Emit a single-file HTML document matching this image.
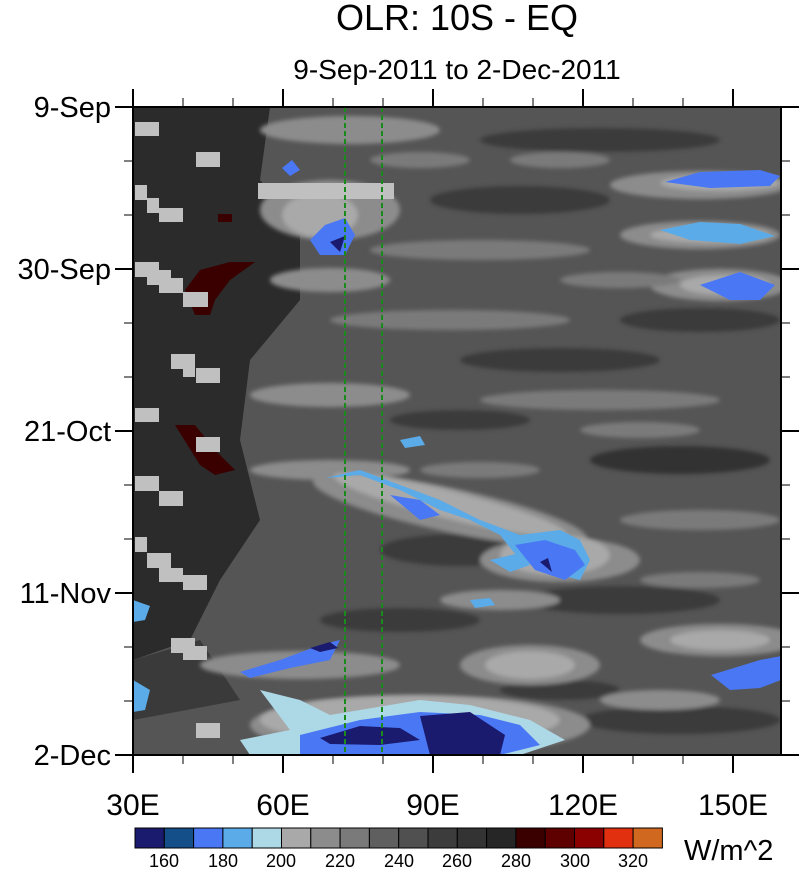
<!DOCTYPE html>
<html><head><meta charset="utf-8"><style>
html,body{margin:0;padding:0;background:#fff}
svg{display:block}
text{font-family:"Liberation Sans",Arial,sans-serif;fill:#000}
</style></head><body>
<svg width="800" height="869" viewBox="0 0 800 869">
<defs>
<clipPath id="pc"><rect x="133" y="107" width="648" height="648"/></clipPath>
<filter id="bl" x="-20%" y="-50%" width="140%" height="200%"><feGaussianBlur stdDeviation="2"/></filter>
</defs>
<text x="457" y="30" font-size="36" text-anchor="middle">OLR: 10S - EQ</text>
<text x="457" y="79" font-size="28" text-anchor="middle">9-Sep-2011 to 2-Dec-2011</text>
<g clip-path="url(#pc)">
<rect x="133" y="107" width="648" height="648" fill="#555"/>
<polygon points="133,107 270,107 260,180 300,230 300,300 250,360 240,440 260,520 220,580 190,640 133,660" fill="#2b2b2b"/>
<polygon points="133,660 200,640 240,700 133,720" fill="#3a3a3a"/>
<g filter="url(#bl)">
<ellipse cx="600" cy="140" rx="120" ry="12" fill="#3a3a3a"/>
<ellipse cx="520" cy="200" rx="90" ry="14" fill="#3a3a3a"/>
<ellipse cx="700" cy="320" rx="80" ry="12" fill="#3a3a3a"/>
<ellipse cx="560" cy="360" rx="100" ry="12" fill="#3a3a3a"/>
<ellipse cx="460" cy="420" rx="70" ry="10" fill="#3a3a3a"/>
<ellipse cx="680" cy="460" rx="90" ry="14" fill="#333"/>
<ellipse cx="460" cy="550" rx="80" ry="16" fill="#3a3a3a"/>
<ellipse cx="620" cy="600" rx="100" ry="14" fill="#3a3a3a"/>
<ellipse cx="400" cy="620" rx="80" ry="12" fill="#3a3a3a"/>
<ellipse cx="680" cy="720" rx="100" ry="14" fill="#3a3a3a"/>
<ellipse cx="560" cy="690" rx="60" ry="10" fill="#3a3a3a"/>
<ellipse cx="350" cy="130" rx="90" ry="14" fill="#8c8c8c"/>
<ellipse cx="330" cy="210" rx="70" ry="30" fill="#8c8c8c"/>
<ellipse cx="330" cy="280" rx="60" ry="12" fill="#8c8c8c"/>
<ellipse cx="480" cy="250" rx="110" ry="10" fill="#7a7a7a"/>
<ellipse cx="700" cy="185" rx="90" ry="14" fill="#8c8c8c"/>
<ellipse cx="700" cy="235" rx="80" ry="14" fill="#8c8c8c"/>
<ellipse cx="720" cy="285" rx="70" ry="16" fill="#8c8c8c"/>
<ellipse cx="450" cy="320" rx="120" ry="10" fill="#7a7a7a"/>
<ellipse cx="330" cy="395" rx="80" ry="12" fill="#8c8c8c"/>
<ellipse cx="600" cy="400" rx="120" ry="10" fill="#7a7a7a"/>
<ellipse cx="330" cy="470" rx="80" ry="10" fill="#8c8c8c"/>
<ellipse cx="450" cy="510" rx="140" ry="22" fill="#8c8c8c" transform="rotate(12 450 510)"/>
<ellipse cx="560" cy="560" rx="80" ry="22" fill="#8c8c8c"/>
<ellipse cx="700" cy="520" rx="80" ry="10" fill="#7a7a7a"/>
<ellipse cx="500" cy="600" rx="60" ry="10" fill="#8c8c8c"/>
<ellipse cx="720" cy="640" rx="80" ry="16" fill="#8c8c8c"/>
<ellipse cx="530" cy="665" rx="70" ry="20" fill="#8c8c8c"/>
<ellipse cx="300" cy="665" rx="100" ry="14" fill="#8c8c8c"/>
<ellipse cx="420" cy="725" rx="170" ry="30" fill="#8c8c8c"/>
<ellipse cx="660" cy="700" rx="60" ry="10" fill="#8c8c8c"/>
<ellipse cx="620" cy="280" rx="60" ry="8" fill="#7a7a7a"/>
<ellipse cx="560" cy="160" rx="50" ry="8" fill="#7a7a7a"/>
<ellipse cx="420" cy="160" rx="50" ry="8" fill="#7a7a7a"/>
<ellipse cx="640" cy="430" rx="60" ry="8" fill="#7a7a7a"/>
<ellipse cx="480" cy="470" rx="60" ry="8" fill="#7a7a7a"/>
<ellipse cx="700" cy="580" rx="60" ry="8" fill="#7a7a7a"/>
</g>
<g filter="url(#bl)">
<ellipse cx="320" cy="215" rx="38" ry="22" fill="#a9a9a9"/>
<ellipse cx="450" cy="505" rx="120" ry="14" fill="#a9a9a9" transform="rotate(14 450 505)"/>
<ellipse cx="555" cy="555" rx="55" ry="20" fill="#a9a9a9"/>
<ellipse cx="410" cy="720" rx="150" ry="24" fill="#a9a9a9"/>
<ellipse cx="530" cy="665" rx="45" ry="14" fill="#a9a9a9"/>
<ellipse cx="720" cy="640" rx="50" ry="10" fill="#a9a9a9"/>
<ellipse cx="710" cy="235" rx="60" ry="8" fill="#a9a9a9"/>
<ellipse cx="720" cy="183" rx="60" ry="8" fill="#a9a9a9"/>
<ellipse cx="725" cy="285" rx="45" ry="10" fill="#a9a9a9"/>
</g>
<polygon points="260,690 300,700 330,715 420,700 470,705 530,720 565,740 520,755 250,755 240,740 290,730" fill="#add8e6"/>
<polygon points="300,735 360,720 420,712 480,715 520,725 540,745 500,755 300,755" fill="#4a78f5"/>
<polygon points="320,738 360,726 400,728 420,740 380,745 330,744" fill="#1a1a6e"/>
<polygon points="420,716 470,712 505,735 500,755 430,755" fill="#1a1a6e"/>
<polygon points="240,672 280,660 320,645 340,640 330,660 290,668 250,678" fill="#4a78f5"/>
<polygon points="310,648 330,642 338,648 320,652" fill="#1a1a6e"/>
<polygon points="325,478 360,475 400,490 440,510 470,520 500,535 520,560 560,575 580,580 590,560 580,540 560,530 520,535 480,520 440,500 400,485 360,470" fill="#5aabe8"/>
<polygon points="390,495 420,500 440,515 420,520" fill="#4a78f5"/>
<polygon points="515,545 545,540 575,550 585,565 565,580 535,570" fill="#4a78f5"/>
<polygon points="540,562 548,558 552,572" fill="#1a1a6e"/>
<polygon points="310,240 325,225 345,218 355,235 345,255 320,255" fill="#4a78f5"/>
<polygon points="330,242 345,236 340,252" fill="#1a1a6e"/>
<polygon points="282,168 292,160 300,170 290,176" fill="#4a78f5"/>
<polygon points="665,182 700,172 760,170 780,176 770,186 710,188" fill="#4a78f5"/>
<polygon points="660,230 700,222 740,224 775,236 740,244 690,240" fill="#5aabe8"/>
<polygon points="700,285 740,272 775,285 760,300 730,300" fill="#4a78f5"/>
<polygon points="711,675 760,660 781,656 781,680 760,688 730,690" fill="#4a78f5"/>
<polygon points="490,560 520,553 530,565 510,572" fill="#5aabe8"/>
<polygon points="470,600 490,598 495,605 475,608" fill="#5aabe8"/>
<polygon points="400,440 420,436 425,445 405,448" fill="#5aabe8"/>
<polygon points="133,680 150,690 145,710 133,712" fill="#5aabe8"/>
<polygon points="133,600 150,606 145,620 133,622" fill="#5aabe8"/>
<polygon points="185,290 200,270 230,262 255,262 230,280 215,300 210,315 195,315" fill="#3a0000"/>
<polygon points="175,425 195,425 215,450 235,470 215,475 200,465" fill="#3a0000"/>
<rect x="218" y="214" width="14" height="8" fill="#3a0000"/>
<g fill="#c0c0c0">
<rect x="135" y="122" width="24" height="14"/>
<rect x="196" y="152" width="24" height="15"/>
<rect x="258" y="183" width="136" height="16"/>
<rect x="135" y="185" width="12" height="15"/>
<rect x="147" y="198" width="12" height="15"/>
<rect x="159" y="208" width="24" height="14"/>
<rect x="135" y="262" width="24" height="15"/>
<rect x="147" y="270" width="24" height="15"/>
<rect x="159" y="278" width="24" height="15"/>
<rect x="183" y="292" width="25" height="15"/>
<rect x="171" y="354" width="24" height="15"/>
<rect x="183" y="362" width="12" height="15"/>
<rect x="196" y="368" width="24" height="15"/>
<rect x="135" y="408" width="24" height="14"/>
<rect x="196" y="437" width="24" height="15"/>
<rect x="135" y="476" width="24" height="15"/>
<rect x="159" y="491" width="24" height="15"/>
<rect x="135" y="537" width="12" height="15"/>
<rect x="147" y="553" width="24" height="15"/>
<rect x="159" y="568" width="24" height="14"/>
<rect x="183" y="575" width="24" height="15"/>
<rect x="171" y="638" width="24" height="15"/>
<rect x="183" y="646" width="24" height="14"/>
<rect x="196" y="723" width="24" height="15"/>
</g>
</g>
<g stroke="#1a8a1a" stroke-width="2" stroke-dasharray="5,3">
<line x1="345" y1="107" x2="345" y2="755"/>
<line x1="382" y1="107" x2="382" y2="755"/>
</g>
<rect x="133" y="107" width="648" height="648" fill="none" stroke="#000" stroke-width="2"/>
<g stroke="#000" stroke-width="2">
<line x1="133" y1="107" x2="133" y2="89"/><line x1="283" y1="107" x2="283" y2="89"/><line x1="433" y1="107" x2="433" y2="89"/><line x1="583" y1="107" x2="583" y2="89"/><line x1="733" y1="107" x2="733" y2="89"/>
<line x1="133" y1="755" x2="133" y2="773"/><line x1="283" y1="755" x2="283" y2="773"/><line x1="433" y1="755" x2="433" y2="773"/><line x1="583" y1="755" x2="583" y2="773"/><line x1="733" y1="755" x2="733" y2="773"/>
<line x1="133" y1="107" x2="115" y2="107"/><line x1="133" y1="269" x2="115" y2="269"/><line x1="133" y1="431" x2="115" y2="431"/><line x1="133" y1="593" x2="115" y2="593"/><line x1="133" y1="755" x2="115" y2="755"/>
<line x1="781" y1="107" x2="799" y2="107"/><line x1="781" y1="269" x2="799" y2="269"/><line x1="781" y1="431" x2="799" y2="431"/><line x1="781" y1="593" x2="799" y2="593"/><line x1="781" y1="755" x2="799" y2="755"/>
</g>
<g stroke="#000" stroke-width="1">
<path d="M183 107v-9M233 107v-9M333 107v-9M383 107v-9M483 107v-9M533 107v-9M633 107v-9M683 107v-9M183 755v9M233 755v9M333 755v9M383 755v9M483 755v9M533 755v9M633 755v9M683 755v9"/>
<path d="M133 161h-9M133 215h-9M133 323h-9M133 377h-9M133 485h-9M133 539h-9M133 647h-9M133 701h-9M781 161h9M781 215h9M781 323h9M781 377h9M781 485h9M781 539h9M781 647h9M781 701h9"/>
</g>
<g font-size="29" text-anchor="end">
<text x="111" y="117">9-Sep</text>
<text x="111" y="279">30-Sep</text>
<text x="111" y="441">21-Oct</text>
<text x="111" y="603">11-Nov</text>
<text x="111" y="765">2-Dec</text>
</g>
<g font-size="30" text-anchor="middle">
<text x="133" y="815">30E</text>
<text x="283" y="815">60E</text>
<text x="433" y="815">90E</text>
<text x="583" y="815">120E</text>
<text x="733" y="815">150E</text>
</g>
<g stroke="#000" stroke-width="1">
<rect x="135" y="828" width="29.3" height="20" fill="#1a1a6e"/>
<rect x="164.3" y="828" width="29.3" height="20" fill="#154f8a"/>
<rect x="193.6" y="828" width="29.3" height="20" fill="#4a78f5"/>
<rect x="222.9" y="828" width="29.3" height="20" fill="#5aabe8"/>
<rect x="252.2" y="828" width="29.3" height="20" fill="#add8e6"/>
<rect x="281.5" y="828" width="29.3" height="20" fill="#a9a9a9"/>
<rect x="310.8" y="828" width="29.3" height="20" fill="#8c8c8c"/>
<rect x="340.1" y="828" width="29.3" height="20" fill="#7a7a7a"/>
<rect x="369.4" y="828" width="29.3" height="20" fill="#5f5f5f"/>
<rect x="398.7" y="828" width="29.3" height="20" fill="#505050"/>
<rect x="428" y="828" width="29.3" height="20" fill="#3c3c3c"/>
<rect x="457.3" y="828" width="29.3" height="20" fill="#333333"/>
<rect x="486.6" y="828" width="29.3" height="20" fill="#262626"/>
<rect x="515.9" y="828" width="29.3" height="20" fill="#3a0000"/>
<rect x="545.2" y="828" width="29.3" height="20" fill="#5e0000"/>
<rect x="574.5" y="828" width="29.3" height="20" fill="#8b0000"/>
<rect x="603.8" y="828" width="29.3" height="20" fill="#e03010"/>
<rect x="633.1" y="828" width="29.3" height="20" fill="#d06820"/>
</g>
<g font-size="18" text-anchor="middle">
<text x="164" y="867">160</text><text x="223" y="867">180</text><text x="281" y="867">200</text><text x="340" y="867">220</text><text x="399" y="867">240</text><text x="457" y="867">260</text><text x="516" y="867">280</text><text x="575" y="867">300</text><text x="633" y="867">320</text>
</g>
<text x="684" y="860" font-size="29">W/m^2</text>
</svg>
</body></html>
